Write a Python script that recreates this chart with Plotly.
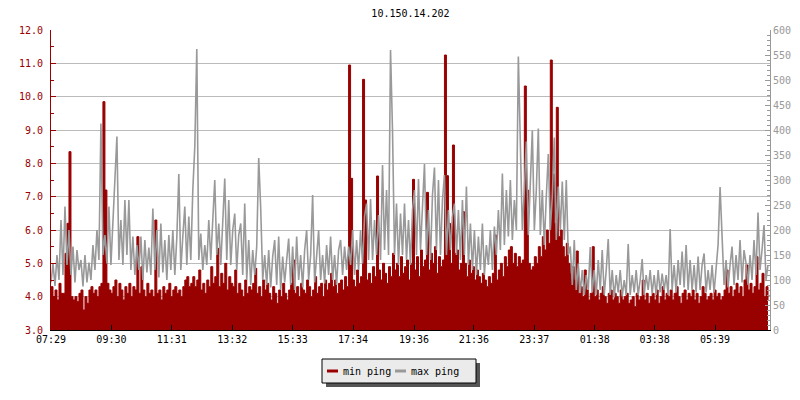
import plotly.graph_objects as go

title_text = "10.150.14.202"
start_label = "07:29"
sample_minutes = 4
tick_labels = ["07:29", "09:30", "11:31", "13:32", "15:33", "17:34",
               "19:36", "21:36", "23:37", "01:38", "03:38", "05:39"]
series_names = ["min ping", "max ping"]

# min ping (left axis)
min_ping = [
    4.3, 4.0, 4.2, 3.9, 4.4, 4.1, 4.1, 5.3, 6.2, 8.35,
    4.0, 3.9, 4.0, 3.85, 4.1, 4.2, 3.6, 4.0, 3.8, 4.2,
    4.3, 4.1, 4.2, 4.0, 4.3, 4.4, 9.85, 7.2, 4.4, 4.2,
    4.1, 4.3, 4.5, 4.0, 4.4, 4.2, 3.9, 4.3, 4.1, 4.4,
    4.0, 4.3, 4.2, 5.8, 4.1, 4.9, 4.2, 4.0, 4.4, 4.1,
    4.2, 4.0, 6.3, 4.1, 4.2, 3.9, 4.3, 4.1, 4.2, 4.4,
    4.0, 4.2, 4.3, 4.1, 4.2, 4.0, 4.3, 4.5, 4.6, 4.3,
    4.4, 4.6, 4.3, 4.5, 4.8, 4.2, 4.4, 4.1, 4.5, 4.3,
    4.9, 4.4, 4.6, 5.45, 4.3, 4.7, 4.4, 5.0, 4.2, 4.6,
    4.4, 4.3, 4.8, 4.1, 4.4, 4.2, 4.0, 4.5, 4.1, 4.3,
    4.2, 4.4, 4.85, 4.1, 4.3, 4.0, 4.5, 4.2, 4.4, 4.1,
    3.9, 4.3, 4.1, 3.8, 4.2, 4.0, 4.4, 4.1, 3.9, 4.2,
    4.4, 5.1, 4.1, 4.3, 4.0, 4.4, 4.2, 4.1, 4.5, 4.3,
    4.0, 4.2, 4.6, 4.1, 4.3, 4.4, 4.0, 4.5, 4.2, 4.4,
    4.7, 4.3, 4.5, 4.1, 4.4, 4.5, 4.2, 4.6, 4.3, 10.95,
    7.55, 4.5, 4.3, 4.8, 4.4, 4.6, 10.52, 6.9, 4.5, 4.7,
    4.4, 4.9, 4.6, 7.62, 4.8, 4.5, 5.0, 4.7, 4.4, 4.9,
    4.6, 5.3, 4.8, 5.0, 4.6, 5.2, 4.7, 4.9, 5.1, 4.5,
    5.0, 7.52, 4.8, 5.2, 4.6, 5.4, 4.9, 5.1, 7.13, 4.8,
    5.3, 5.0, 5.5, 4.7, 5.2, 4.9, 5.1, 11.25, 7.63, 6.2,
    5.0, 8.55, 5.3, 5.4, 4.8, 5.0, 6.55, 5.0, 4.6, 5.1,
    4.7, 4.9, 4.5, 4.8, 4.6, 4.4, 4.7, 4.5, 4.3, 4.6,
    4.4, 4.7, 5.85, 4.5, 4.8, 5.0, 4.6, 5.2, 4.9, 5.4,
    5.5, 5.0, 5.3, 4.9, 5.2, 5.0, 5.1, 10.32, 7.2, 5.0,
    4.8, 4.9, 5.2, 5.0, 5.5, 5.2, 5.8, 5.4, 6.0, 5.6,
    11.1, 7.68, 6.2, 9.68, 5.8, 6.0, 5.5, 5.2, 5.6, 5.0,
    4.7, 4.9, 4.5, 5.37, 4.1, 4.3, 4.0, 4.8, 4.2, 3.9,
    4.1, 5.5, 4.0, 4.2, 3.9, 4.1, 4.3, 4.0, 3.8, 4.1,
    4.2, 3.9, 4.1, 4.0, 3.8, 4.2, 3.9, 4.0, 4.1, 3.8,
    3.9, 4.0, 3.7, 4.1, 3.9, 4.0, 4.5, 3.9, 4.1, 3.8,
    4.0, 4.1, 3.9, 4.2, 3.8, 4.0, 4.3, 3.9, 4.1, 4.0,
    4.2, 3.9, 4.1, 4.3, 4.0, 3.8, 4.1, 4.2, 3.9, 4.1,
    4.0, 4.2, 3.9, 4.1, 3.8, 4.0, 4.3, 4.1, 3.9, 4.0,
    4.1, 3.9, 4.2, 4.0, 4.1, 3.9, 4.0, 4.2, 4.8, 4.1,
    4.3, 4.0, 4.2, 4.4, 4.1, 4.3, 4.0, 4.5, 4.95, 4.2,
    4.4, 4.1, 4.3, 5.2, 4.2, 4.4, 4.7, 4.0, 4.3, 3.9,
]

# max ping (right axis)
max_ping = [
    95, 133, 88, 150, 100, 220, 110, 247, 130, 200,
    110, 167, 95, 160, 120, 140, 87, 150, 95, 135,
    100, 170, 120, 200, 140, 413, 150, 190, 133, 247,
    130, 207, 293, 387, 140, 220, 130, 260, 150, 260,
    120, 187, 110, 170, 120, 187, 100, 180, 115, 165,
    110, 243, 120, 200, 105, 213, 115, 180, 100, 190,
    120, 200, 110, 185, 312, 120, 187, 247, 130, 227,
    140, 280, 367, 562, 140, 193, 120, 170, 130, 220,
    140, 210, 300, 150, 213, 130, 227, 303, 140, 260,
    130, 200, 233, 120, 190, 213, 110, 253, 100, 180,
    90, 160, 110, 167, 344, 243, 100, 150, 90, 160,
    85, 147, 180, 90, 187, 80, 147, 95, 140, 183,
    90, 167, 80, 187, 100, 150, 85, 160, 200, 100,
    150, 270, 95, 140, 200, 100, 150, 93, 170, 110,
    187, 100, 150, 90, 160, 180, 110, 167, 120, 167,
    130, 200, 110, 180, 120, 200, 133, 227, 253, 140,
    262, 140, 220, 150, 230, 140, 330, 160, 280, 150,
    560, 397, 150, 253, 130, 233, 150, 253, 140, 220,
    130, 240, 280, 150, 302, 160, 260, 332, 150, 240,
    140, 270, 325, 160, 300, 150, 260, 310, 150, 240,
    160, 227, 253, 150, 240, 140, 260, 150, 287, 130,
    213, 120, 200, 110, 187, 120, 213, 110, 170, 130,
    200, 120, 207, 150, 240, 160, 313, 170, 280, 187,
    300, 180, 260, 200, 547, 360, 200, 280, 377, 190,
    300, 399, 200, 280, 403, 190, 280, 170, 267, 352,
    200, 267, 385, 180, 287, 200, 297, 180, 300, 150,
    167, 90, 180, 80, 133, 74, 120, 70, 110, 80,
    166, 75, 120, 70, 140, 80, 160, 70, 120, 182,
    70, 120, 65, 110, 75, 120, 67, 100, 70, 172,
    70, 110, 75, 120, 70, 100, 142, 70, 110, 80,
    120, 73, 110, 70, 120, 75, 113, 80, 110, 70,
    202, 80, 130, 75, 140, 90, 157, 85, 170, 80,
    140, 80, 130, 75, 147, 80, 130, 153, 75, 120,
    80, 130, 75, 120, 170, 286, 178, 90, 140, 85,
    130, 167, 90, 150, 100, 180, 95, 160, 133, 90,
    150, 100, 180, 110, 235, 120, 160, 210, 100, 130,
]


def minutes_of(label):
    h, m = label.split(":")
    return int(h) * 60 + int(m)


start = minutes_of(start_label)
t = [i * sample_minutes for i in range(len(min_ping))]
tick_vals = [(minutes_of(lbl) - start) % 1440 for lbl in tick_labels]

FONT = "DejaVu Sans Mono"
RED = "#990000"
GRAY = "#999999"

# plot area in pixels (for placing the legend box in paper coordinates)
L, R, T, B = 51, 770, 30, 330


def px(xp):
    return (xp - L) / (R - L)


def py(yp):
    return (B - yp) / (B - T)


fig = go.Figure()
fig.add_trace(go.Scatter(
    x=t, y=min_ping, name=series_names[0], mode="lines",
    line=dict(shape="hv", width=1, color=RED),
    fill="tozeroy", fillcolor=RED, showlegend=False,
))
fig.add_trace(go.Scatter(
    x=t, y=max_ping, name=series_names[1], mode="lines", yaxis="y2",
    line=dict(width=1.6, color=GRAY), showlegend=False,
))

# legend box (drawn like the original: shadowed box with short colour bars)
fig.add_shape(type="rect", xref="paper", yref="paper",
              x0=px(326), x1=px(480), y0=py(387), y1=py(363),
              fillcolor="#555555", line=dict(width=0), layer="above")
fig.add_shape(type="rect", xref="paper", yref="paper",
              x0=px(322), x1=px(476), y0=py(383), y1=py(359),
              fillcolor="#ebebeb", line=dict(width=1, color="black"), layer="above")
for (x0, x1), color, (tx, name) in zip([(327, 338), (395, 406)], [RED, GRAY],
                                       [(341, series_names[0]), (409, series_names[1])]):
    fig.add_shape(type="line", xref="paper", yref="paper",
                  x0=px(x0), x1=px(x1), y0=py(371), y1=py(371),
                  line=dict(width=3, color=color), layer="above")
    fig.add_annotation(xref="paper", yref="paper", x=px(tx), y=py(371),
                       xanchor="left", yanchor="middle", text=name, showarrow=False,
                       font=dict(family=FONT, size=10, color="black"))

fig.update_layout(
    width=800, height=400,
    margin=dict(l=L, r=800 - R, t=T, b=400 - B, autoexpand=False),
    paper_bgcolor="white", plot_bgcolor="white",
    font=dict(family=FONT, size=10, color="black"),
    title=dict(text=title_text, x=0.5, xanchor="center", xref="paper",
               y=1 - 13 / 400, yref="container", yanchor="middle",
               font=dict(family=FONT, size=10, color="black")),
    showlegend=False,
    xaxis=dict(range=[0, 1440], tickvals=tick_vals, ticktext=tick_labels,
               ticks="inside", ticklen=5, tickcolor="black", automargin=False,
               showline=True, linecolor="black", linewidth=1,
               showgrid=False, zeroline=False,
               tickfont=dict(family=FONT, size=10, color="black")),
    yaxis=dict(range=[3, 12], dtick=1, tick0=3, tickformat=".1f", automargin=False,
               ticks="inside", ticklen=5, tickcolor=RED, ticklabelstandoff=5,
               showline=True, linecolor=RED, linewidth=1,
               showgrid=True, gridcolor="#bbbbbb", gridwidth=1, zeroline=False,
               tickfont=dict(family=FONT, size=10, color=RED),
               minor=dict(dtick=0.5, ticks="inside", ticklen=3, tickcolor=RED,
                          showgrid=False)),
    yaxis2=dict(range=[0, 600], dtick=50, tick0=0, overlaying="y", side="right",
                ticks="inside", ticklen=5, tickcolor=GRAY, automargin=False,
                showline=True, linecolor=GRAY, linewidth=1,
                showgrid=False, zeroline=False,
                tickfont=dict(family=FONT, size=10, color=GRAY),
                minor=dict(dtick=10, ticks="inside", ticklen=3, tickcolor=GRAY,
                           showgrid=False)),
)

fig.write_html("out.html", config={"displayModeBar": False},
               post_script="document.body.style.margin='0';document.body.style.padding='0';")
